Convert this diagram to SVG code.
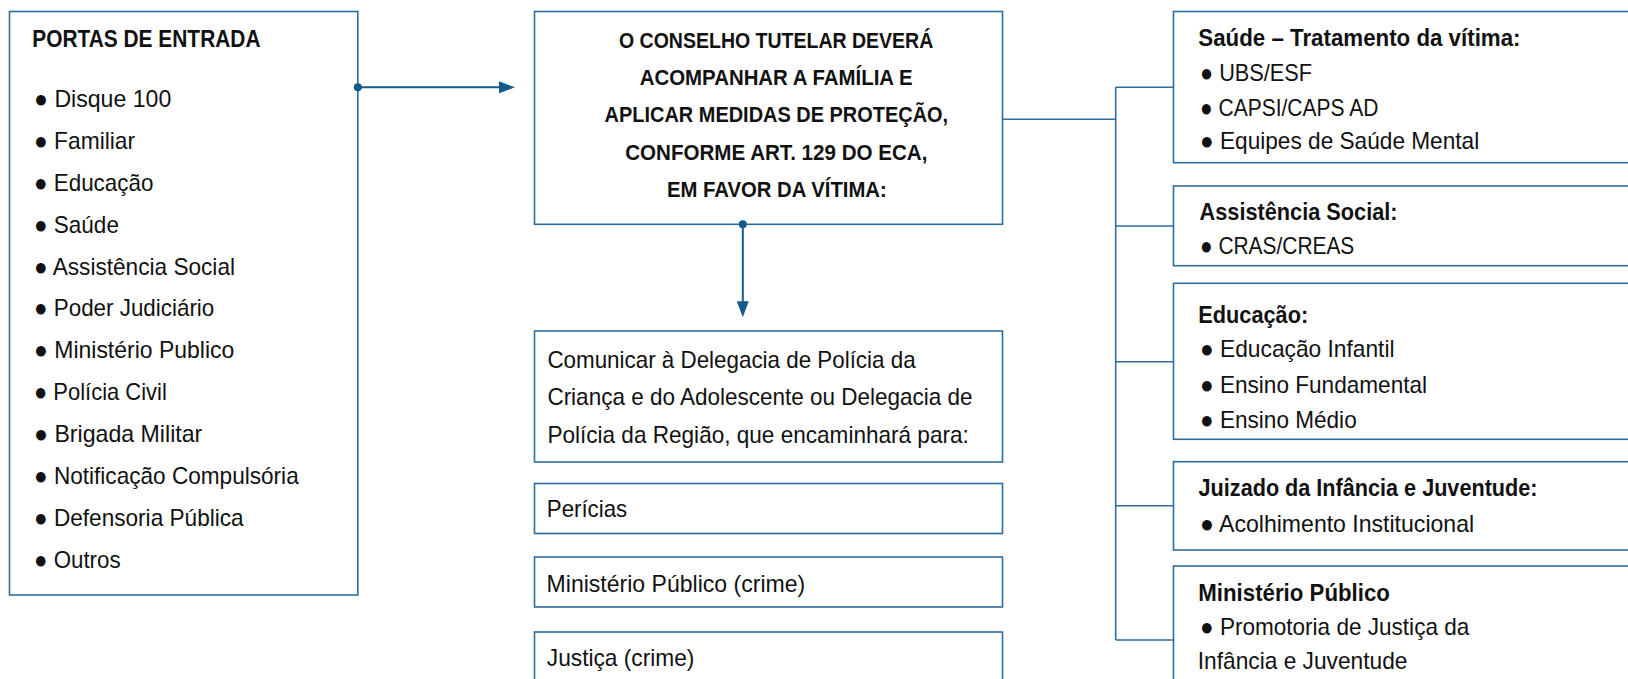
<svg xmlns="http://www.w3.org/2000/svg" width="1628" height="679" viewBox="0 0 1628 679">
<style>
  .box{fill:#fff;stroke:#2e6d9e;stroke-width:1.6}
  .t{font-family:"Liberation Sans",Arial,sans-serif;font-size:24px;fill:#111}
  .b{font-family:"Liberation Sans",Arial,sans-serif;font-weight:bold;font-size:24px;fill:#111}
  .m{font-family:"Liberation Sans",Arial,sans-serif;font-weight:bold;font-size:22px;fill:#111}
  .conn{fill:none;stroke:#2e6d9e;stroke-width:1.6}
  .arr{fill:none;stroke:#135b8d;stroke-width:2}
</style>
<defs>
  <marker id="ah" markerUnits="userSpaceOnUse" markerWidth="16" markerHeight="12" refX="4" refY="6" orient="auto">
    <path d="M0,0 L16,6 L0,12 z" fill="#135b8d"/>
  </marker>
  <marker id="dot" markerUnits="userSpaceOnUse" markerWidth="10" markerHeight="10" refX="5" refY="5" orient="auto">
    <circle cx="5" cy="5" r="4" fill="#135b8d"/>
  </marker>
</defs>

<g id="portas">
  <rect class="box" x="9.5" y="11.5" width="348.3" height="583.5"/>
  <text class="b" x="32.2" y="46.7" font-size="23" textLength="228.3" lengthAdjust="spacingAndGlyphs">PORTAS DE ENTRADA</text>
  <text class="t" x="34" y="107" textLength="137.3" lengthAdjust="spacingAndGlyphs">● Disque 100</text>
  <text class="t" x="34" y="149" textLength="101.1" lengthAdjust="spacingAndGlyphs">● Familiar</text>
  <text class="t" x="34" y="191" textLength="119.4" lengthAdjust="spacingAndGlyphs">● Educação</text>
  <text class="t" x="34" y="232.5" textLength="84.9" lengthAdjust="spacingAndGlyphs">● Saúde</text>
  <text class="t" x="34" y="274.5" textLength="201" lengthAdjust="spacingAndGlyphs">● Assistência Social</text>
  <text class="t" x="34" y="316.2" textLength="180.3" lengthAdjust="spacingAndGlyphs">● Poder Judiciário</text>
  <text class="t" x="34" y="358.2" textLength="200.3" lengthAdjust="spacingAndGlyphs">● Ministério Publico</text>
  <text class="t" x="34" y="400" textLength="132.8" lengthAdjust="spacingAndGlyphs">● Polícia Civil</text>
  <text class="t" x="34" y="442" textLength="168.3" lengthAdjust="spacingAndGlyphs">● Brigada Militar</text>
  <text class="t" x="34" y="484" textLength="264.7" lengthAdjust="spacingAndGlyphs">● Notificação Compulsória</text>
  <text class="t" x="34" y="525.8" textLength="209.6" lengthAdjust="spacingAndGlyphs">● Defensoria Pública</text>
  <text class="t" x="34" y="567.7" textLength="86.6" lengthAdjust="spacingAndGlyphs">● Outros</text>
</g>

<g id="conselho">
  <rect class="box" x="534.5" y="11.5" width="468" height="212.8"/>
  <text class="m" x="619" y="47.7" textLength="314.3" lengthAdjust="spacingAndGlyphs">O CONSELHO TUTELAR DEVERÁ</text>
  <text class="m" x="639.7" y="85" textLength="272.9" lengthAdjust="spacingAndGlyphs">ACOMPANHAR A FAMÍLIA E</text>
  <text class="m" x="604.6" y="122.3" textLength="343.5" lengthAdjust="spacingAndGlyphs">APLICAR MEDIDAS DE PROTEÇÃO,</text>
  <text class="m" x="625.2" y="160" textLength="302.2" lengthAdjust="spacingAndGlyphs">CONFORME ART. 129 DO ECA,</text>
  <text class="m" x="666.9" y="197.3" textLength="219.9" lengthAdjust="spacingAndGlyphs">EM FAVOR DA VÍTIMA:</text>
</g>

<g id="comunicar">
  <rect class="box" x="534.5" y="331" width="468" height="131"/>
  <text class="t" x="547.4" y="368.3" textLength="368.2" lengthAdjust="spacingAndGlyphs">Comunicar à Delegacia de Polícia da</text>
  <text class="t" x="547.4" y="405.3" textLength="425.1" lengthAdjust="spacingAndGlyphs">Criança e do Adolescente ou Delegacia de</text>
  <text class="t" x="547.4" y="442.7" textLength="421.4" lengthAdjust="spacingAndGlyphs">Polícia da Região, que encaminhará para:</text>
</g>

<g id="pericias">
  <rect class="box" x="534.5" y="483.5" width="468" height="50"/>
  <text class="t" x="546.8" y="517.3" textLength="80.4" lengthAdjust="spacingAndGlyphs">Perícias</text>
</g>

<g id="mp-crime">
  <rect class="box" x="534.5" y="557" width="468" height="50"/>
  <text class="t" x="546.6" y="591.7" textLength="258.6" lengthAdjust="spacingAndGlyphs">Ministério Público (crime)</text>
</g>

<g id="justica">
  <rect class="box" x="534.5" y="632" width="468" height="80"/>
  <text class="t" x="546.8" y="666" textLength="147.6" lengthAdjust="spacingAndGlyphs">Justiça (crime)</text>
</g>

<g id="saude">
  <rect class="box" x="1173.5" y="11.5" width="500" height="151.2"/>
  <text class="b" x="1198.3" y="45.7" textLength="322.2" lengthAdjust="spacingAndGlyphs">Saúde – Tratamento da vítima:</text>
  <text class="t" x="1200" y="80.7" textLength="112.1" lengthAdjust="spacingAndGlyphs">● UBS/ESF</text>
  <text class="t" x="1200" y="115.7" textLength="178.3" lengthAdjust="spacingAndGlyphs">● CAPSI/CAPS AD</text>
  <text class="t" x="1200" y="149" textLength="279.2" lengthAdjust="spacingAndGlyphs">● Equipes de Saúde Mental</text>
</g>

<g id="assistencia">
  <rect class="box" x="1173.5" y="186" width="500" height="79.7"/>
  <text class="b" x="1199.6" y="220" textLength="197.9" lengthAdjust="spacingAndGlyphs">Assistência Social:</text>
  <text class="t" x="1200" y="254" textLength="154.3" lengthAdjust="spacingAndGlyphs">● CRAS/CREAS</text>
</g>

<g id="educacao">
  <rect class="box" x="1173.5" y="283.3" width="500" height="156"/>
  <text class="b" x="1198.3" y="323.3" textLength="109.9" lengthAdjust="spacingAndGlyphs">Educação:</text>
  <text class="t" x="1200" y="357.3" textLength="194.5" lengthAdjust="spacingAndGlyphs">● Educação Infantil</text>
  <text class="t" x="1200" y="392.7" textLength="227.1" lengthAdjust="spacingAndGlyphs">● Ensino Fundamental</text>
  <text class="t" x="1200" y="427.7" textLength="156.7" lengthAdjust="spacingAndGlyphs">● Ensino Médio</text>
</g>

<g id="juizado">
  <rect class="box" x="1173.5" y="461.7" width="500" height="88.3"/>
  <text class="b" x="1198.6" y="496" textLength="338.9" lengthAdjust="spacingAndGlyphs">Juizado da Infância e Juventude:</text>
  <text class="t" x="1200" y="531.7" textLength="274.1" lengthAdjust="spacingAndGlyphs">● Acolhimento Institucional</text>
</g>

<g id="ministerio">
  <rect class="box" x="1173.5" y="566" width="500" height="160"/>
  <text class="b" x="1198.3" y="600.7" textLength="191.6" lengthAdjust="spacingAndGlyphs">Ministério Público</text>
  <text class="t" x="1200" y="634.8" textLength="269.3" lengthAdjust="spacingAndGlyphs">● Promotoria de Justiça da</text>
  <text class="t" x="1197.8" y="669.3" textLength="209.6" lengthAdjust="spacingAndGlyphs">Infância e Juventude</text>
</g>

<g id="connectors">
  <path class="arr" d="M357.8,87.3 L503,87.3" marker-start="url(#dot)" marker-end="url(#ah)"/>
  <path class="arr" d="M742.8,224.3 L742.8,305.3" marker-start="url(#dot)" marker-end="url(#ah)"/>
  <path class="conn" d="M1002.4,119.3 H1115.7 M1115.7,87.3 V640 M1115.7,87.3 H1173.5 M1115.7,226 H1173.5 M1115.7,361.7 H1173.5 M1115.7,505.7 H1173.5 M1115.7,640 H1173.5"/>
</g>
</svg>
